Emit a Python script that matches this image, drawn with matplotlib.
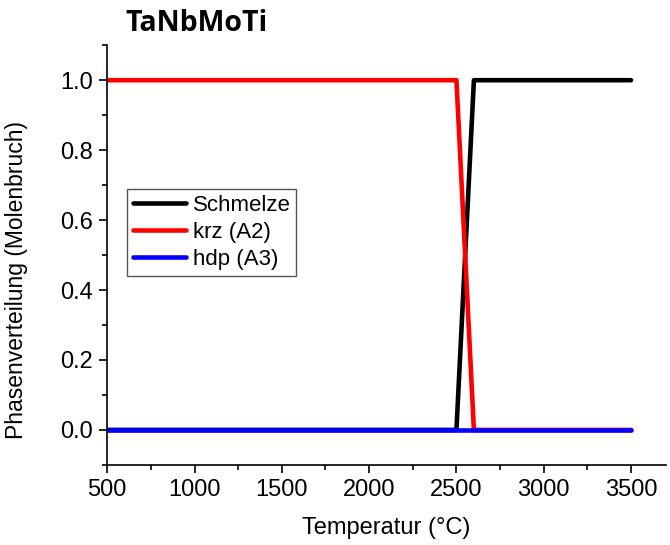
import matplotlib.pyplot as plt
from matplotlib.ticker import MultipleLocator

plt.rcParams['font.family'] = ['Liberation Sans', 'DejaVu Sans']

temp = [500, 1000, 1500, 2000, 2500, 2600, 3000, 3500]
schmelze = [0, 0, 0, 0, 0, 1, 1, 1]
krz = [1, 1, 1, 1, 1, 0, 0, 0]
hdp = [0, 0, 0, 0, 0, 0, 0, 0]

fig = plt.figure(figsize=(6.7, 5.45), dpi=100)
ax = fig.add_axes([0.16, 0.147, 0.834, 0.77])

ax.plot(temp, schmelze, color='black', lw=3.3, label='Schmelze', solid_capstyle='round')
ax.plot(temp, krz, color='#ff0000', lw=3.3, label='krz (A2)', solid_capstyle='round')
ax.plot(temp, hdp, color='#0000ff', lw=3.3, label='hdp (A3)', solid_capstyle='round')

ax.set_xlim(500, 3700)
ax.set_ylim(-0.1, 1.1)
ax.set_xticks([500, 1000, 1500, 2000, 2500, 3000, 3500])
ax.set_yticks([0.0, 0.2, 0.4, 0.6, 0.8, 1.0])
ax.yaxis.set_major_formatter(plt.FormatStrFormatter('%.1f'))
ax.xaxis.set_minor_locator(MultipleLocator(250))
ax.yaxis.set_minor_locator(MultipleLocator(0.1))
ax.tick_params(which='major', length=6, width=1.2, labelsize=17, direction='out', pad=4)
ax.tick_params(which='minor', length=3.5, width=1.2, direction='out')
for s in ['top', 'right']:
    ax.spines[s].set_visible(False)
for s in ['left', 'bottom']:
    ax.spines[s].set_linewidth(1.2)

ax.set_xlabel('Temperatur (°C)', fontsize=17, labelpad=12)
ax.set_ylabel('Phasenverteilung (Molenbruch)', fontsize=16.5)
ax.yaxis.set_label_coords(-0.142, 0.44)

fig.text(0.187, 0.93, 'TaNbMoTi', fontsize=20.5, fontweight='bold', family=['Open Sans', 'DejaVu Sans'], va='bottom')

leg = ax.legend(loc='upper left', bbox_to_anchor=(0.036, 0.657), borderaxespad=0,
                fontsize=16, fancybox=False, framealpha=1, handlelength=2.4,
                handletextpad=0.3, labelspacing=0.28, borderpad=0.25)
leg.get_frame().set_edgecolor('#555555')
leg.get_frame().set_linewidth(1)

fig.savefig('out.png', dpi=100)
